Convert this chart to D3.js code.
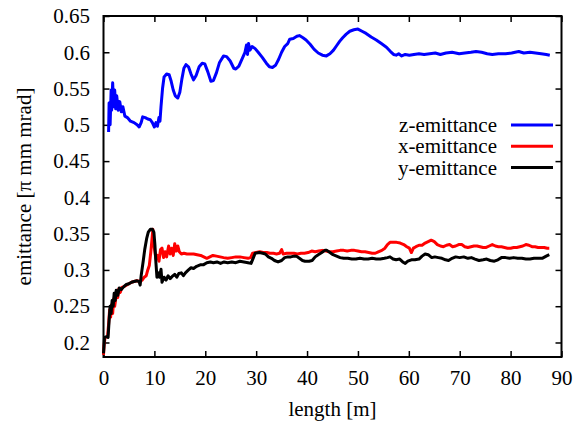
<!DOCTYPE html>
<html>
<head>
<meta charset="utf-8">
<script src="https://cdn.jsdelivr.net/npm/d3@7"></script>
<style>
  body { margin: 0; background: #fff; }
  svg { display: block; }
  text { font-family: "Liberation Serif", "Times New Roman", serif; font-size: 21px; fill: #000; }
</style>
</head>
<body>
<div id="chart"></div>
<script>
// z-emittance (blue)
const zLength = [1.0,1.1,1.3,1.5,1.6,1.8,2.0,2.2,2.4,2.6,2.9,3.2,3.5,3.8,4.2,4.7,5.3,6.0,6.6,7.0,7.4,7.7,8.2,8.7,9.2,9.6,10.0,10.3,10.6,10.9,11.1,11.3,11.6,11.9,12.4,12.9,13.3,13.7,14.1,14.6,15.0,15.4,15.8,16.2,16.7,17.2,17.7,18.2,18.8,19.4,19.9,20.5,21.1,21.6,22.2,22.8,23.6,24.2,24.9,25.6,26.0,26.6,27.3,27.8,28.1,28.3,28.5,28.8,29.2,29.8,30.4,31.2,32.0,32.6,33.2,33.8,34.4,35.0,35.6,36.2,36.6,37.3,38.0,38.5,39.2,39.8,40.6,41.4,42.2,43.0,43.8,44.5,45.2,45.8,46.4,47.0,47.7,48.4,49.2,50.0,50.8,51.6,52.6,53.6,54.6,55.6,56.4,57.0,57.5,58.0,58.6,59.3,60.1,61.0,62.0,63.0,64.1,65.2,66.2,67.3,68.5,69.9,71.0,72.2,73.2,74.3,75.4,76.4,77.6,79.0,80.2,81.6,82.6,83.8,84.9,86.0,87.0,87.7];
const zEmit = [0.490,0.530,0.500,0.548,0.520,0.558,0.525,0.548,0.522,0.540,0.520,0.532,0.518,0.525,0.512,0.510,0.505,0.503,0.500,0.497,0.503,0.511,0.510,0.508,0.507,0.503,0.497,0.503,0.498,0.510,0.505,0.525,0.550,0.566,0.570,0.569,0.560,0.548,0.540,0.537,0.545,0.563,0.578,0.583,0.580,0.570,0.562,0.568,0.580,0.585,0.584,0.573,0.560,0.561,0.572,0.586,0.595,0.594,0.588,0.578,0.577,0.581,0.592,0.600,0.610,0.597,0.612,0.603,0.608,0.605,0.600,0.593,0.585,0.580,0.579,0.582,0.590,0.600,0.608,0.612,0.618,0.619,0.622,0.623,0.620,0.617,0.611,0.604,0.599,0.596,0.595,0.598,0.603,0.609,0.615,0.620,0.625,0.629,0.631,0.632,0.629,0.626,0.621,0.617,0.612,0.607,0.601,0.597,0.596,0.598,0.595,0.597,0.596,0.597,0.598,0.597,0.598,0.599,0.597,0.599,0.600,0.598,0.599,0.600,0.601,0.600,0.598,0.597,0.598,0.598,0.599,0.601,0.599,0.600,0.599,0.598,0.597,0.596];

// x-emittance (red)
const xLength = [0.0,0.1,0.3,0.8,1.0,1.2,1.4,1.6,1.8,2.0,2.2,2.5,2.8,3.0,3.3,3.6,4.0,4.5,5.0,5.5,6.0,6.6,7.2,7.6,8.0,8.4,8.7,9.0,9.3,9.5,9.7,9.8,10.0,10.3,10.6,10.9,11.2,11.5,11.8,12.1,12.4,12.8,13.1,13.4,13.7,14.0,14.3,14.6,14.9,15.3,15.8,16.4,17.0,17.7,18.4,19.1,19.7,20.3,20.9,21.5,22.2,22.9,23.6,24.4,25.2,26.0,26.8,27.6,28.4,28.9,29.3,30.0,30.7,31.4,32.1,32.7,33.4,34.0,34.6,35.0,35.3,36.0,36.7,37.4,38.1,38.8,39.5,40.2,40.9,41.6,42.3,43.0,43.7,44.4,45.1,45.8,46.5,47.2,47.9,48.6,49.3,50.0,50.7,51.4,52.1,52.8,53.4,54.0,54.7,55.3,55.8,56.3,56.9,57.6,58.3,59.0,59.6,60.1,60.5,60.9,61.4,62.0,62.6,63.2,63.8,64.4,65.0,65.6,66.2,66.8,67.4,68.0,68.6,69.2,69.8,70.4,71.0,71.6,72.2,72.8,73.4,74.0,74.6,75.2,75.8,76.4,77.0,77.6,78.2,78.8,79.4,80.0,80.6,81.2,81.8,82.4,83.0,83.6,84.2,84.8,85.4,86.0,86.6,87.2,87.6];
const xEmit = [0.183,0.195,0.207,0.208,0.225,0.245,0.235,0.252,0.240,0.260,0.250,0.265,0.262,0.274,0.269,0.276,0.277,0.279,0.281,0.283,0.284,0.285,0.284,0.286,0.290,0.292,0.300,0.306,0.325,0.340,0.356,0.345,0.330,0.315,0.320,0.312,0.328,0.330,0.317,0.325,0.318,0.333,0.322,0.330,0.320,0.336,0.326,0.333,0.325,0.322,0.323,0.322,0.322,0.322,0.321,0.320,0.318,0.316,0.318,0.320,0.319,0.318,0.317,0.316,0.317,0.318,0.318,0.317,0.316,0.317,0.323,0.324,0.325,0.324,0.324,0.323,0.323,0.322,0.323,0.328,0.322,0.323,0.323,0.323,0.322,0.323,0.323,0.324,0.326,0.325,0.326,0.327,0.326,0.325,0.325,0.326,0.327,0.327,0.326,0.327,0.327,0.326,0.325,0.325,0.324,0.323,0.323,0.325,0.327,0.330,0.335,0.338,0.338,0.338,0.337,0.335,0.332,0.330,0.324,0.330,0.332,0.334,0.334,0.337,0.339,0.341,0.339,0.335,0.333,0.332,0.334,0.335,0.332,0.333,0.335,0.335,0.332,0.331,0.332,0.333,0.333,0.332,0.331,0.331,0.333,0.335,0.333,0.332,0.332,0.331,0.330,0.330,0.331,0.331,0.332,0.333,0.335,0.334,0.332,0.332,0.331,0.331,0.331,0.330,0.330];

// y-emittance (black)
const yLength = [0.0,0.1,0.2,0.6,0.9,1.1,1.3,1.5,1.7,1.9,2.1,2.3,2.5,2.8,3.1,3.5,4.0,4.5,5.0,5.5,6.0,6.6,7.0,7.2,7.4,7.8,8.1,8.5,8.8,9.2,9.6,9.9,10.1,10.3,10.5,10.8,11.0,11.3,11.5,11.9,12.3,12.7,13.1,13.5,14.0,14.4,14.8,15.3,15.7,16.1,16.7,17.2,17.7,18.3,19.0,19.6,20.3,21.0,21.6,22.3,23.0,23.7,24.4,25.2,26.0,26.8,27.6,28.4,29.0,29.4,29.8,30.6,31.3,31.8,32.4,33.0,33.6,34.3,35.0,35.6,36.2,36.8,37.4,37.9,38.5,39.1,39.6,40.4,41.0,41.6,42.2,42.9,43.5,43.9,44.5,45.1,45.8,46.5,47.2,48.0,48.8,49.6,50.4,51.2,52.0,52.8,53.6,54.4,55.2,55.8,56.3,56.9,57.5,58.2,58.8,59.3,59.8,60.5,61.2,62.0,62.6,63.2,63.8,64.5,65.1,65.8,66.5,67.2,67.8,68.5,69.2,70.0,70.8,71.6,72.3,73.0,73.8,74.6,75.3,76.0,76.8,77.5,78.2,79.0,79.8,80.6,81.4,82.2,83.0,83.8,84.6,85.4,86.2,87.0,87.6];
const yEmit = [0.185,0.195,0.207,0.208,0.207,0.230,0.250,0.240,0.258,0.250,0.268,0.258,0.272,0.265,0.275,0.273,0.277,0.280,0.281,0.283,0.284,0.285,0.284,0.279,0.292,0.312,0.328,0.344,0.352,0.356,0.356,0.352,0.335,0.310,0.290,0.296,0.290,0.301,0.283,0.290,0.286,0.292,0.288,0.291,0.294,0.290,0.295,0.296,0.292,0.296,0.300,0.303,0.302,0.305,0.307,0.307,0.310,0.311,0.310,0.311,0.309,0.311,0.310,0.311,0.310,0.312,0.311,0.310,0.309,0.316,0.323,0.324,0.323,0.322,0.318,0.316,0.313,0.311,0.313,0.317,0.318,0.318,0.319,0.319,0.316,0.313,0.312,0.312,0.313,0.318,0.321,0.324,0.327,0.327,0.324,0.321,0.319,0.317,0.316,0.316,0.315,0.315,0.316,0.315,0.315,0.316,0.315,0.315,0.316,0.317,0.318,0.315,0.314,0.315,0.311,0.309,0.312,0.314,0.314,0.315,0.319,0.322,0.321,0.317,0.318,0.317,0.316,0.314,0.313,0.316,0.318,0.317,0.318,0.316,0.317,0.315,0.313,0.314,0.315,0.313,0.312,0.314,0.317,0.317,0.316,0.317,0.316,0.316,0.315,0.315,0.316,0.316,0.316,0.319,0.321];

const xTicks = [0, 10, 20, 30, 40, 50, 60, 70, 80, 90];
const yTicks = [0.2, 0.25, 0.3, 0.35, 0.4, 0.45, 0.5, 0.55, 0.6, 0.65];

const seriesNames = ["z-emittance", "x-emittance", "y-emittance"];
const seriesColors = ["#0000ff", "#ff0000", "#000000"];

const series = [
  { name: seriesNames[0], color: seriesColors[0], values: zLength.map((l, i) => ({ l, e: zEmit[i] })) },
  { name: seriesNames[1], color: seriesColors[1], values: xLength.map((l, i) => ({ l, e: xEmit[i] })) },
  { name: seriesNames[2], color: seriesColors[2], values: yLength.map((l, i) => ({ l, e: yEmit[i] })) }
];

const margin = { top: 16, right: 23.5, bottom: 66, left: 103.5 };
const width = 585 - margin.left - margin.right;
const height = 423 - margin.top - margin.bottom;

const svg = d3.select("#chart")
  .append("svg")
  .attr("width", 585)
  .attr("height", 423);

const g = svg.append("g")
  .attr("transform", `translate(${margin.left},${margin.top})`);

const x = d3.scaleLinear().domain([0, 90]).range([0, width]);
const y = d3.scaleLinear().domain([0.18, 0.65]).range([height, 0]);

// axes, ticks point inward on every side
const bottomAxis = g.append("g")
  .attr("transform", `translate(0,${height})`)
  .call(d3.axisBottom(x).tickValues(xTicks).tickSizeInner(-6).tickSizeOuter(0).tickPadding(13));

const leftAxis = g.append("g")
  .call(d3.axisLeft(y).tickValues(yTicks).tickSizeInner(-6).tickSizeOuter(0).tickPadding(13.5)
    .tickFormat(d => String(+d.toFixed(2))));

g.append("g")
  .call(d3.axisTop(x).tickValues(xTicks).tickSizeInner(-6).tickSizeOuter(0).tickFormat(""));

g.append("g")
  .attr("transform", `translate(${width},0)`)
  .call(d3.axisRight(y).tickValues(yTicks).tickSizeInner(-6).tickSizeOuter(0).tickFormat(""));

g.selectAll(".domain").remove();
g.selectAll(".tick line").attr("stroke", "#000").attr("stroke-width", 1.5);
g.selectAll(".tick text")
  .style("font-family", "'Liberation Serif', 'Times New Roman', serif")
  .style("font-size", "21px");

g.append("rect")
  .attr("width", width)
  .attr("height", height)
  .attr("fill", "none")
  .attr("stroke", "#000")
  .attr("stroke-width", 2);

// axis labels
svg.append("text")
  .attr("text-anchor", "middle")
  .attr("transform", `translate(31,${margin.top + height / 2}) rotate(-90)`)
  .text("emittance [π mm mrad]");

svg.append("text")
  .attr("text-anchor", "middle")
  .attr("x", margin.left + width / 2)
  .attr("y", 416)
  .text("length [m]");

// curves
const line = d3.line()
  .x(d => x(d.l))
  .y(d => y(d.e));

series.forEach(s => {
  g.append("path")
    .datum(s.values)
    .attr("fill", "none")
    .attr("stroke", s.color)
    .attr("stroke-width", 3)
    .attr("stroke-linejoin", "round")
    .attr("d", line);
});

// legend
const legend = svg.append("g");
series.forEach((s, i) => {
  const ly = 125 + i * 21.3;
  legend.append("text")
    .attr("text-anchor", "end")
    .attr("x", 497)
    .attr("y", ly + 7)
    .text(s.name);
  legend.append("line")
    .attr("x1", 511)
    .attr("x2", 553)
    .attr("y1", ly)
    .attr("y2", ly)
    .attr("stroke", s.color)
    .attr("stroke-width", 3);
});
</script>
</body>
</html>
